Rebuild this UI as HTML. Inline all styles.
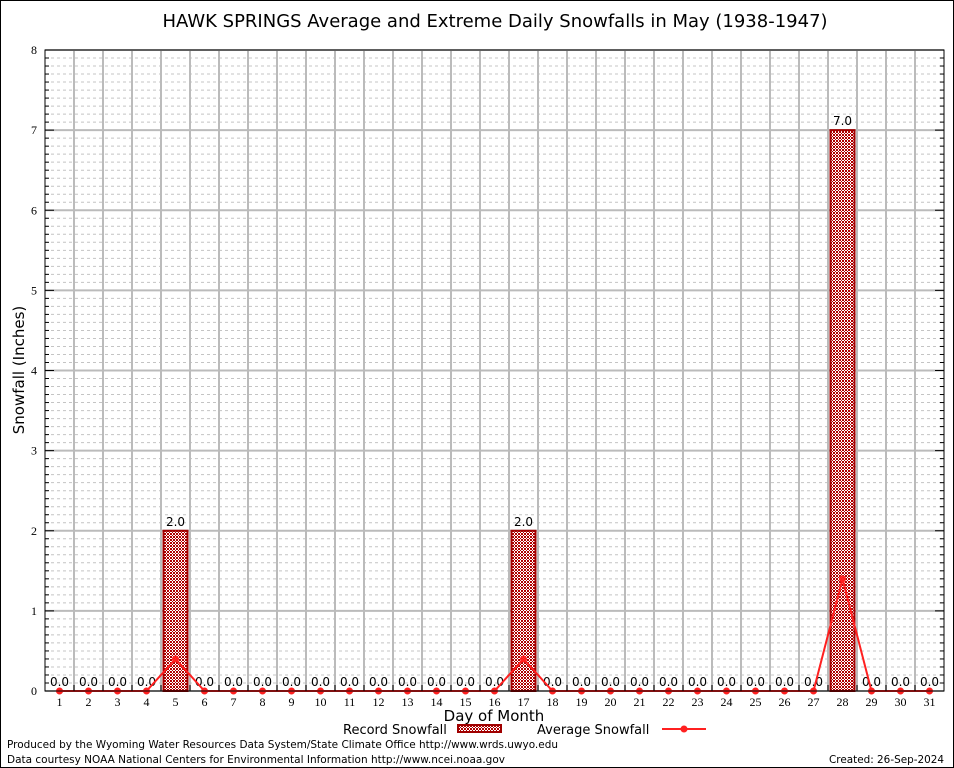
<!DOCTYPE html>
<html><head><meta charset="utf-8"><style>
html,body{margin:0;padding:0;background:#fff}
svg{display:block;font-family:"DejaVu Sans","Liberation Sans",sans-serif}
</style></head><body>
<svg id="chart" width="954" height="768" viewBox="0 0 954 768">
<defs>
<pattern id="hatch" width="3" height="3" patternUnits="userSpaceOnUse">
<rect width="3" height="3" fill="#fff"/>
<rect x="0" y="0" width="1" height="1" fill="#b00000"/>
<rect x="1" y="1" width="1" height="1" fill="#b00000"/>
<rect x="2" y="2" width="1" height="1" fill="#b00000"/>
<rect x="2" y="0" width="1" height="1" fill="#b00000"/>
<rect x="0" y="2" width="1" height="1" fill="#b00000"/>
</pattern>
</defs>
<rect x="0.5" y="0.5" width="953" height="767" fill="#fff" stroke="#000"/>
<text x="495" y="27" font-size="18" text-anchor="middle">HAWK SPRINGS Average and Extreme Daily Snowfalls in May (1938-1947)</text>
<g id="grid"></g>
<g id="bars"></g>
<g id="line"></g>
<g id="axes"></g>
<text x="24" y="370" font-size="15" text-anchor="middle" transform="rotate(-90 24 370)">Snowfall (Inches)</text>
<text x="494" y="721" font-size="15" text-anchor="middle">Day of Month</text>
<g>
<text x="343" y="734" font-size="13">Record Snowfall</text>
<rect x="458" y="725" width="43" height="7" fill="url(#hatch)" stroke="#a00000" stroke-width="2"/>
</g>
<g>
<text x="537" y="734" font-size="13">Average Snowfall</text>
<line x1="662" y1="729" x2="706" y2="729" stroke="#ff2020" stroke-width="2"/>
<circle cx="684" cy="729" r="3.5" fill="#ff2020"/>
</g>
<text x="7" y="748" font-size="11" textLength="551" lengthAdjust="spacingAndGlyphs">Produced by the Wyoming Water Resources Data System/State Climate Office http://www.wrds.uwyo.edu</text>
<text x="7" y="763" font-size="11" textLength="498" lengthAdjust="spacingAndGlyphs">Data courtesy NOAA National Centers for Environmental Information http://www.ncei.noaa.gov</text>
<text x="829" y="763" font-size="11" textLength="115" lengthAdjust="spacingAndGlyphs">Created: 26-Sep-2024</text>
</svg>
<script>
const days = [1,2,3,4,5,6,7,8,9,10,11,12,13,14,15,16,17,18,19,20,21,22,23,24,25,26,27,28,29,30,31];
const recordSnow = [0,0,0,0,2,0,0,0,0,0,0,0,0,0,0,0,2,0,0,0,0,0,0,0,0,0,0,7,0,0,0];
const avgSnow = [0,0,0,0,0.4,0,0,0,0,0,0,0,0,0,0,0,0.4,0,0,0,0,0,0,0,0,0,0,1.4,0,0,0];
const yTicks = [0,1,2,3,4,5,6,7,8];

const NS="http://www.w3.org/2000/svg";
const L=45,R=944,T=50,B=691,YMAX=8;
const x=d=>L+(d-0.5)*(R-L)/31;
const y=v=>B-v*(B-T)/YMAX;
function mk(tag,attrs,parent){const e=document.createElementNS(NS,tag);for(const k in attrs)e.setAttribute(k,attrs[k]);parent.appendChild(e);return e;}
const grid=document.getElementById('grid'),bars=document.getElementById('bars'),line=document.getElementById('line'),axes=document.getElementById('axes');

for(let i=1;i<YMAX*10;i++){if(i%10===0)continue;
 const g=mk('line',{x1:L,x2:R,y1:y(i/10),y2:y(i/10),stroke:'#c4c4c4','stroke-width':1,'stroke-dasharray':'3,3'},grid);
 
 
 mk('line',{x1:L,x2:L+4,y1:y(i/10),y2:y(i/10),stroke:'#000'},axes);
 mk('line',{x1:R-4,x2:R,y1:y(i/10),y2:y(i/10),stroke:'#000'},axes);
}
yTicks.forEach(t=>{
 const g=mk('line',{x1:L,x2:R,y1:y(t),y2:y(t),stroke:'#bbb','stroke-width':2},grid);
 
 
 mk('line',{x1:L,x2:L+9,y1:y(t),y2:y(t),stroke:'#000'},axes);
 mk('line',{x1:R-9,x2:R,y1:y(t),y2:y(t),stroke:'#000'},axes);
 const tx=mk('text',{x:37,y:y(t)+4,'font-size':12,'text-anchor':'end','font-family':'Liberation Serif, serif'},axes);
 tx.textContent=t;
 
 
});
for(let k=1;k<31;k++){
 const xv=L+k*(R-L)/31;
 const g=mk('line',{x1:xv,x2:xv,y1:T,y2:B,stroke:'#bbb','stroke-width':2},grid);
 
 
 mk('line',{x1:xv,x2:xv,y1:B-6,y2:B,stroke:'#000'},axes);
}
days.forEach((d,i)=>{
 const v=recordSnow[i];
 if(v>0){
  const b=mk('rect',{x:x(d)-12,y:y(v),width:24,height:y(0)-y(v),fill:'url(#hatch)',stroke:'#a00000','stroke-width':2},bars);
  
  
 }
 const t=mk('text',{x:x(d),y:y(v)-5,'font-size':12,'text-anchor':'middle'},bars);
 t.textContent=v.toFixed(1);
 
 
 const xl=mk('text',{x:x(d),y:B+15,'font-size':12,'text-anchor':'middle','font-family':'Liberation Serif, serif'},axes);
 xl.textContent=d;
 
 
});
const pts=days.map((d,i)=>x(d)+','+y(avgSnow[i])).join(' ');
const pl=mk('polyline',{points:pts,fill:'none',stroke:'#ff2020','stroke-width':2},line);


days.forEach((d,i)=>{
 const c=mk('circle',{cx:x(d),cy:y(avgSnow[i]),r:3.5,fill:'#ff2020'},line);
 
 
});
const fr=mk('rect',{x:L,y:T,width:R-L,height:B-T,fill:'none',stroke:'#000','stroke-width':1},axes);


</script>
</body></html>
